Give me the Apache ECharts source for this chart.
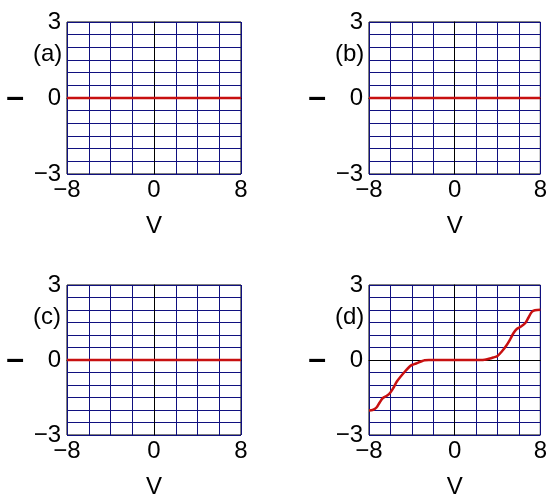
<!DOCTYPE html>
<html>
<head>
<meta charset="utf-8">
<script src="https://cdn.jsdelivr.net/npm/echarts@6/dist/echarts.min.js"></script>
<style>
  html, body { margin: 0; padding: 0; background: #fff; }
  #chart { width: 550px; height: 500px; }
</style>
</head>
<body>
<div id="chart"></div>
<script>
// Panel tags and axis tick labels
const panelTags = ['(a)', '(b)', '(c)', '(d)'];
const xTickLabels = [-8, 0, 8];
const yTickLabels = [-3, 0, 3];

// Current–voltage traces, [V, I]
const traceA = [[-8, 0], [8, 0]];
const traceB = [[-8, 0], [8, 0]];
const traceC = [[-8, 0], [8, 0]];
const traceD = [
  [-8.0, -2.02], [-7.6, -1.99], [-7.3, -1.9], [-7.0, -1.7], [-6.7, -1.52],
  [-6.3, -1.42], [-6.0, -1.3], [-5.7, -1.1], [-5.4, -0.86], [-5.0, -0.64],
  [-4.6, -0.44], [-4.2, -0.26], [-4.0, -0.2], [-3.6, -0.14], [-3.2, -0.07],
  [-2.8, -0.01], [-2.4, 0], [0, 0], [2.4, 0], [2.8, 0.01], [3.2, 0.05],
  [3.6, 0.1], [4.0, 0.16], [4.4, 0.34], [4.8, 0.56], [5.2, 0.84],
  [5.5, 1.08], [5.8, 1.24], [6.2, 1.34], [6.6, 1.48], [6.9, 1.7],
  [7.2, 1.92], [7.5, 1.99], [8.0, 2.01]
];
const traces = [traceA, traceB, traceC, traceD];

const FONT = "'Liberation Sans', Arial, sans-serif";
const GRID_COLOR = '#10107f';
const LINE_COLOR = '#c81010';

// Panel plot-area rectangles (left, top)
const panelPos = [[67, 22], [369, 22], [67, 285], [369, 285]];
const PW = 174, PH = 152;

const fmtTick = (ticks) => (v) => {
  const r = Math.round(v * 100) / 100;
  if (!ticks.includes(r)) return '';
  return r < 0 ? '\u2212' + Math.abs(r) : String(r);
};

const grids = [], xAxes = [], yAxes = [], series = [], graphics = [];
panelPos.forEach(([l, t], i) => {
  grids.push({ left: l, top: t, width: PW, height: PH, show: true,
    borderColor: '#000', borderWidth: 1, backgroundColor: '#fff' });
  xAxes.push({
    type: 'value', gridIndex: i, min: -8, max: 8, interval: 2,
    name: 'V', nameLocation: 'middle', nameGap: 40,
    nameTextStyle: { fontFamily: FONT, fontSize: 24, color: '#000' },
    axisLine: { show: true, lineStyle: { color: '#000' } },
    axisTick: { show: false },
    axisLabel: { formatter: fmtTick(xTickLabels), fontFamily: FONT, fontSize: 24,
      color: '#000', margin: 4, showMinLabel: true, showMaxLabel: true },
    splitLine: { show: true, lineStyle: { color: GRID_COLOR, width: 1 } }
  });
  yAxes.push({
    type: 'value', gridIndex: i, min: -3, max: 3, interval: 0.5,
    name: '\u2013', nameLocation: 'middle', nameGap: 43, nameRotate: 0,
    nameTextStyle: { fontFamily: FONT, fontSize: 32, fontWeight: 'bold', color: '#000' },
    axisLine: { show: true, lineStyle: { color: '#000' } },
    axisTick: { show: false },
    axisLabel: { formatter: fmtTick(yTickLabels), fontFamily: FONT, fontSize: 24,
      color: '#000', margin: 6, showMinLabel: true, showMaxLabel: true },
    splitLine: { show: true, lineStyle: { color: GRID_COLOR, width: 1 } }
  });
  series.push({
    type: 'line', xAxisIndex: i, yAxisIndex: i, data: traces[i],
    showSymbol: false, smooth: i === 3 ? 0.35 : false,
    lineStyle: { color: LINE_COLOR, width: 2.5 }, z: 5
  });
  graphics.push({
    type: 'text', left: l - 34, top: t + 20,
    style: { text: panelTags[i], font: '24px ' + FONT, fill: '#000' }
  });
});

const chart = echarts.init(document.getElementById('chart'), null, { renderer: 'canvas' });
chart.setOption({
  animation: false,
  grid: grids, xAxis: xAxes, yAxis: yAxes, series: series, graphic: graphics
});
</script>
</body>
</html>
